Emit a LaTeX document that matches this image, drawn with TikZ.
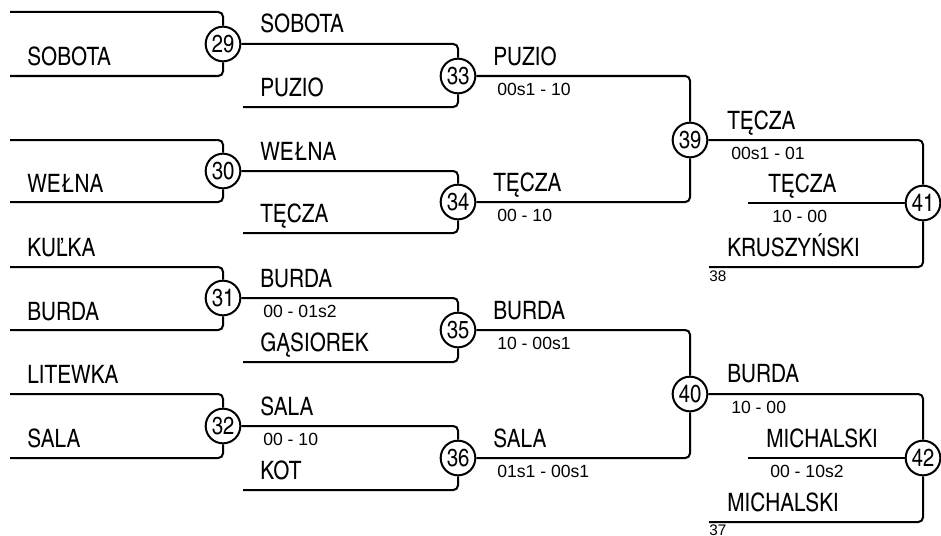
\documentclass[tikz,border=0pt]{standalone}
\usepackage{fontspec}
\setmainfont{Liberation Sans}
\newfontfamily\namefont{texgyreheroscn-regular.otf}
\usepackage{tikz}

\begin{document}
\begin{tikzpicture}[
    x=0.75pt, y=-0.75pt,
    match/.style={
        circle, draw=black, line width=1.5pt, fill=white,
        minimum size=26pt, inner sep=0pt,
        font=\namefont\fontsize{18.5}{19}\selectfont,
    },
    wire/.style={draw=black, line width=1.5pt, rounded corners=3.5pt},
    player/.style={
        anchor=base west, inner sep=0pt,
        font=\namefont\fontsize{19}{20}\selectfont,
    },
    score/.style={
        anchor=north west, inner sep=0pt,
        font=\fontsize{13.2}{14}\selectfont,
    },
    seed/.style={
        anchor=north west, inner sep=0pt,
        font=\fontsize{11.5}{12}\selectfont,
    },
]
\useasboundingbox (0,0) rectangle (941,535);

% ── Matches ──────────────────────────────────────────────────────────
\node[match] (m29) at (223,44)  {29};
\node[match] (m30) at (223,171) {30};
\node[match] (m31) at (223,298) {31};
\node[match] (m32) at (223,426) {32};

\node[match] (m33) at (458,76)  {33};
\node[match] (m34) at (458,202) {34};
\node[match] (m35) at (458,330) {35};
\node[match] (m36) at (458,458) {36};

\node[match] (m39) at (690,140) {39};
\node[match] (m40) at (690,394) {40};

\node[match] (m41) at (923,203) {41};
\node[match] (m42) at (923,458) {42};

% ── Free line ends ───────────────────────────────────────────────────
\coordinate (e29a) at (10,12);
\coordinate (e29b) at (10,76);
\coordinate (e30a) at (10,140);
\coordinate (e30b) at (10,202);
\coordinate (e31a) at (10,267);
\coordinate (e31b) at (10,330);
\coordinate (e32a) at (10,394);
\coordinate (e32b) at (10,458);

\coordinate (e33b) at (243,107);
\coordinate (e34b) at (243,233);
\coordinate (e35b) at (243,362);
\coordinate (e36b) at (243,490);

\coordinate (e41b) at (748,203);
\coordinate (e41c) at (709,267);
\coordinate (e42b) at (748,458);
\coordinate (e42c) at (709,522);

% ── Round 1 ──────────────────────────────────────────────────────────
\draw[wire] (e29a) -| (m29.north);
\draw[wire] (e29b) -| (m29.south);
\draw[wire] (e30a) -| (m30.north);
\draw[wire] (e30b) -| (m30.south);
\draw[wire] (e31a) -| (m31.north);
\draw[wire] (e31b) -| (m31.south);
\draw[wire] (e32a) -| (m32.north);
\draw[wire] (e32b) -| (m32.south);

\node[player] (p29b) at (27,65)  {SOBOTA};
\node[player] (p30b) at (27,192) {WEŁNA};
\node[player] (p31a) at (27,256) {KUĽKA};
\node[player] (p31b) at (27,320) {BURDA};
\node[player] (p32a) at (27,383) {LITEWKA};
\node[player] (p32b) at (27,447) {SALA};

% ── Round 2 ──────────────────────────────────────────────────────────
\draw[wire] (m29.east) -| (m33.north);
\draw[wire] (e33b)     -| (m33.south);
\draw[wire] (m30.east) -| (m34.north);
\draw[wire] (e34b)     -| (m34.south);
\draw[wire] (m31.east) -| (m35.north);
\draw[wire] (e35b)     -| (m35.south);
\draw[wire] (m32.east) -| (m36.north);
\draw[wire] (e36b)     -| (m36.south);

\node[player] (p33a) at (260,33)  {SOBOTA};
\node[player] (p33b) at (260,96)  {PUZIO};
\node[player] (p34a) at (260,160) {WEŁNA};
\node[player] (p34b) at (260,222) {TĘCZA};
\node[player] (p35a) at (260,287) {BURDA};
\node[score]  (s31)  at (263,305) {00 - 01s2};
\node[player] (p35b) at (260,351) {GĄSIOREK};
\node[player] (p36a) at (260,415) {SALA};
\node[score]  (s32)  at (263,433) {00 - 10};
\node[player] (p36b) at (260,479) {KOT};

% ── Round 3 ──────────────────────────────────────────────────────────
\draw[wire] (m33.east) -| (m39.north);
\draw[wire] (m34.east) -| (m39.south);
\draw[wire] (m35.east) -| (m40.north);
\draw[wire] (m36.east) -| (m40.south);

\node[player] (p39a) at (493,65)  {PUZIO};
\node[score]  (s33)  at (497,83)  {00s1 - 10};
\node[player] (p39b) at (493,191) {TĘCZA};
\node[score]  (s34)  at (497,209) {00 - 10};
\node[player] (p40a) at (493,319) {BURDA};
\node[score]  (s35)  at (497,337) {10 - 00s1};
\node[player] (p40b) at (493,447) {SALA};
\node[score]  (s36)  at (497,465) {01s1 - 00s1};

% ── Round 4 ──────────────────────────────────────────────────────────
\draw[wire] (m39.east) -| (m41.north);
\draw[wire] (e41b)     -- (m41.west);
\draw[wire] (e41c)     -| (m41.south);
\draw[wire] (m40.east) -| (m42.north);
\draw[wire] (e42b)     -- (m42.west);
\draw[wire] (e42c)     -| (m42.south);

\node[player] (p41a) at (727,129) {TĘCZA};
\node[score]  (s39)  at (731,147) {00s1 - 01};
\node[player] (p41b) at (768,192) {TĘCZA};
\node[score]  (s41)  at (772,210) {10 - 00};
\node[player] (p41c) at (727,256) {KRUSZYŃSKI};
\node[seed]   (d38)  at (709,271) {38};

\node[player] (p42a) at (727,382) {BURDA};
\node[score]  (s40)  at (731,401) {10 - 00};
\node[player] (p42b) at (766,447) {MICHALSKI};
\node[score]  (s42)  at (770,465) {00 - 10s2};
\node[player] (p42c) at (727,511) {MICHALSKI};
\node[seed]   (d37)  at (709,525) {37};

\end{tikzpicture}
\end{document}
